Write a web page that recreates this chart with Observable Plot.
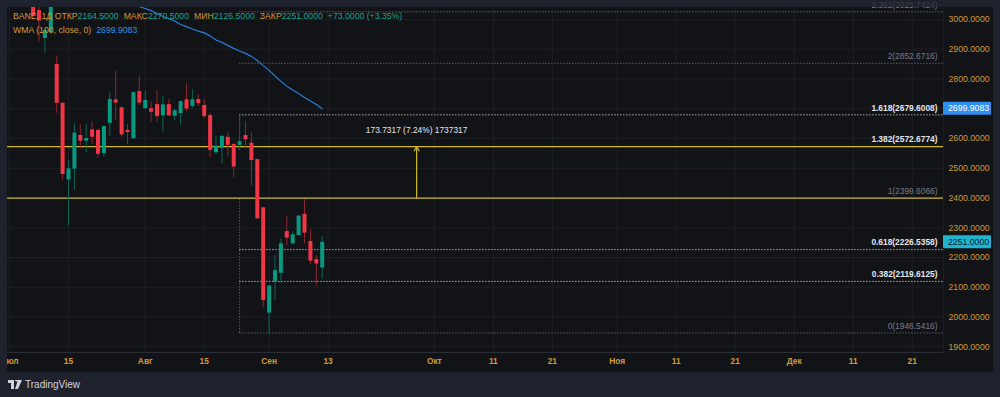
<!DOCTYPE html>
<html>
<head>
<meta charset="utf-8">
<script src="https://cdn.jsdelivr.net/npm/d3@7"></script>
<script src="https://cdn.jsdelivr.net/npm/@observablehq/plot@0.6"></script>
<style>
  html, body { margin: 0; padding: 0; background: #1e222d; }
  #wrap { position: relative; width: 1000px; height: 397px; overflow: hidden; font-family: "Liberation Sans", Arial, sans-serif; }
  #pane { position: absolute; left: 7px; top: 7px; width: 986px; height: 365px; background: #121317; }
  #chart { position: absolute; left: 0; top: 0; }
  #maskL { position: absolute; left: 0; top: 0; width: 7px; height: 397px; background: #1e222d; }
  #maskT { position: absolute; left: 7px; top: 0; width: 986px; height: 7px; background: rgba(30,34,45,0.7); }
  #hdr { position: absolute; left: 13px; top: 9px; font-size: 8.7px; line-height: 14px; white-space: nowrap; }
  #hdr .g { color: #cf9a3a; }
  #hdr .t { color: #1fa08c; }
  #hdr .b { color: #2f8ff0; }
  #hdr span.sp { margin-left: 5px; }
  #logo { position: absolute; left: 8px; top: 379px; color: #d1d4dc; font-size: 10px; display: flex; align-items: center; gap: 3px; }
</style>
</head>
<body>
<div id="wrap">
  <div id="pane"></div>
  <div id="chart"></div>
  <div id="maskL"></div>
  <div id="maskT"></div>
  <div id="hdr"></div>
  <div id="logo"><svg width="14" height="9" viewBox="0 0 14 9"><path d="M0 0h6v9H3V3H0z M7 0a1.5 1.5 0 1 1 0 .01z M10 0h4l-4 9H7z" fill="#d1d4dc"/></svg><span>TradingView</span></div>
</div>
<script>
// ---------- data ----------
const symbol = "BANE, 1Д";
const firstBar = 4; // bar index of the first listed candle (index 0 = 1 Jul)
const opens  = [3060, 3030, 2936, 2956, 2849, 2718, 2461, 2497, 2610, 2591, 2629, 2627, 2549, 2651, 2730, 2703, 2627, 2599, 2758, 2700, 2700, 2714, 2676, 2714, 2675, 2684, 2730, 2708, 2731, 2711, 2677, 2552, 2567, 2604, 2580, 2577, 2610, 2584, 2529, 2367, 2013, 2117, 2147, 2287, 2246, 2274, 2345, 2254, 2193, 2164.5];
const highs  = [3080, 3050, 2968, 3065, 2877, 2722, 2528, 2649, 2646, 2647, 2657, 2632, 2642, 2756, 2825, 2706, 2647, 2756, 2808, 2758, 2724, 2761, 2741, 2731, 2696, 2726, 2784, 2764, 2747, 2730, 2685, 2608, 2610, 2621, 2582, 2677, 2657, 2618, 2531, 2369, 2106, 2207, 2263, 2338, 2286, 2341, 2394, 2293, 2206, 2270.5];
const lows   = [3008, 2925, 2887, 2950, 2685, 2461, 2308, 2425, 2564, 2552, 2580, 2533, 2537, 2608, 2661, 2604, 2580, 2597, 2711, 2698, 2653, 2655, 2621, 2674, 2660, 2645, 2691, 2702, 2708, 2666, 2535, 2545, 2515, 2541, 2468, 2560, 2569, 2442, 2327, 2031, 1940, 2055, 2112, 2240, 2244, 2272, 2246, 2176, 2103, 2126.5];
const closes = [3012, 2995, 2963, 3045, 2718, 2479, 2498, 2618, 2591, 2600, 2604, 2547, 2640, 2731, 2719, 2612, 2620, 2754, 2719, 2728, 2688, 2674, 2713, 2676, 2693, 2724, 2699, 2730, 2717, 2674, 2560, 2574, 2607, 2577, 2504, 2589, 2596, 2526, 2330, 2055, 2104, 2156, 2246, 2265, 2276, 2339, 2282, 2188, 2178, 2251];

const wmaLabel = "WMA (100, close, 0)";
const wmaFirstBar = 22;
const wmaValues = [3043, 3037, 3030, 3020, 3010, 3003, 2995, 2983, 2976, 2968, 2961, 2955, 2945, 2931, 2923, 2913, 2903, 2894, 2886, 2876, 2862, 2845, 2829, 2810, 2792, 2776, 2763, 2751, 2738, 2726, 2714, 2699.9083];

const fibLevels = [0, 0.382, 0.618, 1, 1.382, 1.618, 2, 2.382];
const fibPrices = [1946.5416, 2119.6125, 2226.5358, 2399.6066, 2572.6774, 2679.6008, 2852.6716, 3025.7424];
const fibAnchorBar = 39;
const measureBar = 69;
const measureText = "173.7317 (7.24%) 1737317";

const xTickIdx    = [0, 10, 23, 33, 44, 54, 72, 82, 92, 103, 113, 123, 133, 143, 153];
const xTickLabels = ["Июл", "15", "Авг", "15", "Сен", "13", "Окт", "11", "21", "Ноя", "11", "21", "Дек", "11", "21"];
const yTicks = [1900, 2000, 2100, 2200, 2300, 2400, 2500, 2600, 2700, 2800, 2900, 3000];

// ---------- styles ----------
const gold = "#cf9a3a";
const gridColor = "#1c1f25";
const upColor = "#089981", downColor = "#f23645";
const upWick = "#0b6655", downWick = "#8c2630";
const yellow = "#cdb92a";
const wmaColor = "#2a7bd8";
const brightText = "#e3e5ea", dimText = "#787b86";
const brightDot = "#a9acb3", dimDot = "#5a5d65";
const xDomain = [-0.34, 158.3];
const yDomain = [1880.7, 3040.3];
const fontStack = "'Liberation Sans', Arial, sans-serif";

// ---------- tables ----------
const bars = opens.map((o, k) => ({i: firstBar + k, open: o, high: highs[k], low: lows[k], close: closes[k]}));
const upBars = bars.filter(d => d.close >= d.open);
const downBars = bars.filter(d => d.close < d.open);
const wma = wmaValues.map((v, k) => ({i: wmaFirstBar + k, v}));
const fib = fibLevels.map((level, k) => ({level, price: fibPrices[k]}));
const yellowSet = new Set([1, 1.382]);
const brightSet = new Set([0.382, 0.618, 1.382, 1.618]);
const fibYellow = fib.filter(d => yellowSet.has(d.level));
const fibDotBright = fib.filter(d => !yellowSet.has(d.level) && brightSet.has(d.level));
const fibDotDim = fib.filter(d => !yellowSet.has(d.level) && !brightSet.has(d.level));
const fibLabel = d => `${d.level}(${d.price.toFixed(4)})`;
const fs = 8.4;

const chart = Plot.plot({
  width: 1000,
  height: 397,
  marginLeft: 7,
  marginRight: 57,
  marginTop: 7,
  marginBottom: 45,
  style: {background: "transparent", color: gold, fontFamily: fontStack, fontSize: "8.4px"},
  x: {type: "linear", domain: xDomain},
  y: {type: "linear", domain: yDomain},
  marks: [
    Plot.gridY(yTicks, {stroke: gridColor, strokeOpacity: 1}),
    Plot.gridX(xTickIdx, {stroke: gridColor, strokeOpacity: 1}),
    Plot.frame({anchor: "bottom", stroke: "#2a2d35"}),
    Plot.frame({anchor: "right", stroke: "#1a1d23"}),
    Plot.axisY(yTicks, {anchor: "right", tickSize: 0, tickPadding: 5, tickFormat: d3.format(".4f"), fill: gold, fontSize: fs + 0.3, label: null}),
    Plot.axisX(xTickIdx, {anchor: "bottom", tickSize: 0, tickPadding: 6, tickFormat: d => xTickLabels[xTickIdx.indexOf(d)], fill: gold, fontSize: fs, fontWeight: 600, label: null}),
    // fib extension
    Plot.ruleY(fibDotDim, {y: "price", x1: fibAnchorBar, x2: xDomain[1], stroke: dimDot, strokeDasharray: "1.5,1.5", clip: true}),
    Plot.ruleY(fibDotBright, {y: "price", x1: fibAnchorBar, x2: xDomain[1], stroke: brightDot, strokeDasharray: "1.5,1.5", clip: true}),
    Plot.ruleX([fibAnchorBar], {y1: fibPrices[0], y2: fibPrices[3], stroke: dimDot, strokeDasharray: "1.5,1.5"}),
    Plot.ruleY(fibYellow, {y: "price", stroke: yellow, strokeWidth: 1.3}),
    // candles
    Plot.ruleX(upBars, {x: "i", y1: "low", y2: "high", stroke: upWick, strokeWidth: 1, clip: true}),
    Plot.ruleX(downBars, {x: "i", y1: "low", y2: "high", stroke: downWick, strokeWidth: 1, clip: true}),
    Plot.ruleX(upBars, {x: "i", y1: "open", y2: "close", stroke: upColor, strokeWidth: 4, clip: true}),
    Plot.ruleX(downBars, {x: "i", y1: "open", y2: "close", stroke: downColor, strokeWidth: 4, clip: true}),
    // WMA
    Plot.line(wma, {x: "i", y: "v", stroke: wmaColor, strokeWidth: 1.2, clip: true}),
    // measure arrow
    Plot.arrow([measureText], {x1: measureBar, x2: measureBar, y1: fibPrices[3], y2: fibPrices[4], stroke: yellow, strokeWidth: 1.2, headLength: 6}),
    Plot.text([measureText], {x: measureBar, y: fibPrices[4], dy: -16, text: d => d, fill: brightText, fontSize: fs}),
    // fib labels
    Plot.text(fib.filter(d => brightSet.has(d.level)), {y: "price", text: fibLabel, frameAnchor: "right", textAnchor: "end", dx: -6, dy: -7, fill: brightText, fontSize: fs, fontWeight: 600}),
    Plot.text(fib.filter(d => !brightSet.has(d.level)), {y: "price", text: fibLabel, frameAnchor: "right", textAnchor: "end", dx: -6, dy: -7, fill: dimText, fontSize: fs})
  ]
});
document.getElementById("chart").appendChild(chart);

// price tags on the right axis, positioned with the chart's y scale
const yScale = chart.scale("y");
const lastBar = bars[bars.length - 1];
const prevBar = bars[bars.length - 2];
const tags = [
  {value: wmaValues[wmaValues.length - 1], bg: "#2f8ff0", fg: "#ffffff"},
  {value: lastBar.close, bg: "#1fb5d1", fg: "#0d1b2a"}
];
const svg = d3.select(chart.tagName.toLowerCase() === "svg" ? chart : chart.querySelector("svg"));
const axisLeft = 1000 - 57;
const tg = svg.append("g").attr("text-anchor", "start");
for (const t of tags) {
  const py = yScale.apply(t.value);
  tg.append("rect").attr("x", axisLeft).attr("y", py - 6.5).attr("width", 48).attr("height", 13).attr("rx", 1).attr("fill", t.bg);
  tg.append("text").attr("x", axisLeft + 5).attr("y", py).attr("dy", "0.35em").attr("fill", t.fg)
    .attr("text-anchor", "start")
    .attr("font-size", fs + 0.3).attr("font-family", fontStack).text(d3.format(".4f")(t.value));
}

// header (legend) built from the data
const f4 = d3.format(".4f");
const chg = lastBar.close - prevBar.close;
const pct = chg / prevBar.close * 100;
const sign = chg >= 0 ? "+" : "";
document.getElementById("hdr").innerHTML =
  `<div><span class="g">${symbol}</span> <span class="g">ОТКР</span><span class="t">${f4(lastBar.open)}</span>` +
  `<span class="g sp">МАКС</span><span class="t">${f4(lastBar.high)}</span>` +
  `<span class="g sp">МИН</span><span class="t">${f4(lastBar.low)}</span>` +
  `<span class="g sp">ЗАКР</span><span class="t">${f4(lastBar.close)}</span>` +
  `<span class="t sp">${sign}${f4(chg)} (${sign}${pct.toFixed(2)}%)</span></div>` +
  `<div><span class="g">${wmaLabel}</span><span class="b sp">${f4(wmaValues[wmaValues.length - 1])}</span></div>`;
</script>
</body>
</html>
